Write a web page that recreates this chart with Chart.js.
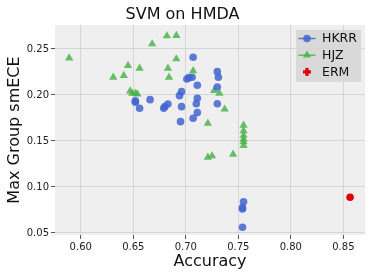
<!DOCTYPE html>
<html>
<head>
<meta charset="utf-8">
<script src="https://cdn.jsdelivr.net/npm/chart.js@4.4.1/dist/chart.umd.min.js"></script>
<style>
  html, body { margin: 0; padding: 0; background: #fff; }
  #wrap { width: 374px; height: 280px; }
</style>
</head>
<body>
<div id="wrap"><canvas id="chart" width="374" height="280"></canvas></div>
<script>
// values
const hkrrAcc = [0.652, 0.652, 0.656, 0.666, 0.679, 0.680, 0.683, 0.695, 0.696, 0.694, 0.696,
    0.701, 0.703, 0.706, 0.707, 0.711, 0.711, 0.710, 0.711, 0.707, 0.730, 0.731, 0.730, 0.730,
    0.755, 0.754, 0.754, 0.754];
const hkrrEce = [0.1935, 0.1920, 0.1855, 0.1949, 0.1855, 0.1873, 0.1902, 0.1710, 0.1873, 0.1992, 0.2036,
    0.2174, 0.2188, 0.2192, 0.2410, 0.2105, 0.1964, 0.1905, 0.1808, 0.1747, 0.2253, 0.2192, 0.2087, 0.1905,
    0.0840, 0.0775, 0.0760, 0.0562];

const hjzAcc = [0.589, 0.631, 0.641, 0.645, 0.656, 0.647, 0.649, 0.652, 0.654, 0.668, 0.682, 0.691,
    0.691, 0.683, 0.684, 0.707, 0.727, 0.732, 0.737, 0.721, 0.721, 0.725, 0.745,
    0.755, 0.755, 0.755, 0.755, 0.755, 0.755];
const hjzEce = [0.240, 0.2192, 0.221, 0.232, 0.229, 0.2043, 0.2018, 0.2018, 0.201, 0.2554, 0.2641, 0.2645,
    0.2391, 0.229, 0.2192, 0.2261, 0.2047, 0.2018, 0.1845, 0.1692, 0.1323, 0.1337, 0.1355,
    0.167, 0.161, 0.156, 0.152, 0.149, 0.145];

const ermAcc = [0.8564];
const ermEce = [0.0888];

const xTicks = [0.60, 0.65, 0.70, 0.75, 0.80, 0.85];
const yTicks = [0.05, 0.10, 0.15, 0.20, 0.25];

const BLUE = 'rgba(66, 100, 208, 0.85)';
const GREEN = 'rgba(72, 178, 72, 0.82)';
const RED = '#e00000';
const FONT = 'DejaVu Sans';

const toPoints = (xs, ys) => xs.map((x, i) => ({ x: x, y: ys[i] }));

// grey plot background like the matplotlib style
const plotBg = {
    id: 'plotBg',
    beforeDraw(chart) {
        const { ctx, chartArea: a } = chart;
        ctx.save();
        ctx.fillStyle = '#efefef';
        ctx.fillRect(a.left, a.top, a.right - a.left, a.bottom - a.top);
        ctx.restore();
    }
};

// legend box inside the plot, top right
const innerLegend = {
    id: 'innerLegend',
    afterDraw(chart) {
        const ctx = chart.ctx;
        const a = chart.chartArea;
        const bx = a.right - 69, by = a.top + 5, bw = 65, bh = 52;
        ctx.save();
        ctx.fillStyle = 'rgba(214, 214, 214, 0.9)';
        ctx.fillRect(bx, by, bw, bh);
        ctx.font = '12.5px "' + FONT + '"';
        ctx.textBaseline = 'middle';
        chart.data.datasets.forEach((ds, i) => {
            const y = by + 8.5 + i * 16.7;
            const mx = bx + 11;
            if (i < 2) {
                ctx.strokeStyle = ds.backgroundColor;
                ctx.lineWidth = 1.5;
                ctx.beginPath();
                ctx.moveTo(bx + 2.5, y);
                ctx.lineTo(bx + 19.5, y);
                ctx.stroke();
                ctx.fillStyle = ds.backgroundColor;
                ctx.beginPath();
                if (i === 0) {
                    ctx.arc(mx, y, 3.8, 0, Math.PI * 2);
                } else {
                    const r = 4.8;
                    ctx.moveTo(mx, y - r);
                    ctx.lineTo(mx + r * 0.866, y + r * 0.5);
                    ctx.lineTo(mx - r * 0.866, y + r * 0.5);
                    ctx.closePath();
                }
                ctx.fill();
            } else {
                // filled plus marker
                ctx.fillStyle = RED;
                ctx.fillRect(mx - 4, y - 1.6, 8, 3.2);
                ctx.fillRect(mx - 1.6, y - 4, 3.2, 8);
            }
            ctx.fillStyle = '#111';
            ctx.fillText(ds.label, bx + 26, y + 0.5);
        });
        ctx.restore();
    }
};

new Chart(document.getElementById('chart'), {
    type: 'scatter',
    data: {
        datasets: [
            {
                label: 'HKRR',
                data: toPoints(hkrrAcc, hkrrEce),
                pointStyle: 'circle',
                pointRadius: 3.8,
                backgroundColor: BLUE,
                borderWidth: 0
            },
            {
                label: 'HJZ',
                data: toPoints(hjzAcc, hjzEce),
                pointStyle: 'triangle',
                pointRadius: 4.8,
                backgroundColor: GREEN,
                borderWidth: 0
            },
            {
                label: 'ERM',
                data: toPoints(ermAcc, ermEce),
                pointStyle: 'circle',
                pointRadius: 3.8,
                backgroundColor: RED,
                borderWidth: 0
            }
        ]
    },
    options: {
        responsive: false,
        animation: false,
        layout: { padding: { left: 0, right: 9, top: 0, bottom: 0 } },
        plugins: {
            legend: { display: false },
            tooltip: { enabled: false },
            title: {
                display: true,
                text: 'SVM on HMDA',
                color: '#111',
                font: { family: FONT, size: 16, weight: 'normal', lineHeight: 1.2 },
                padding: { top: 5, bottom: 0.8 }
            }
        },
        scales: {
            x: {
                type: 'linear',
                min: 0.5755,
                max: 0.8706,
                afterBuildTicks: (scale) => { scale.ticks = xTicks.map(v => ({ value: v })); },
                afterFit: (scale) => { scale.height = 45; },
                ticks: {
                    color: '#222',
                    font: { family: FONT, size: 10 },
                    padding: 2,
                    maxRotation: 0,
                    callback: (v) => v.toFixed(2)
                },
                grid: { color: '#d6d6d6', lineWidth: 1, tickColor: '#555', tickLength: 4 },
                border: { display: false },
                title: {
                    display: true,
                    text: 'Accuracy',
                    color: '#111',
                    font: { family: FONT, size: 16, lineHeight: 1.2 },
                    padding: { top: 0, bottom: 9 }
                }
            },
            y: {
                type: 'linear',
                min: 0.0478,
                max: 0.276,
                afterBuildTicks: (scale) => { scale.ticks = yTicks.map(v => ({ value: v })); },
                afterFit: (scale) => { scale.width = 55; },
                ticks: {
                    color: '#222',
                    font: { family: FONT, size: 10 },
                    padding: 2,
                    callback: (v) => v.toFixed(2)
                },
                grid: { color: '#d6d6d6', lineWidth: 1, tickColor: '#555', tickLength: 4 },
                border: { display: false },
                title: {
                    display: true,
                    text: 'Max Group smECE',
                    color: '#111',
                    font: { family: FONT, size: 16, lineHeight: 1.2 },
                    padding: { top: 5, bottom: 0 }
                }
            }
        }
    },
    plugins: [plotBg, innerLegend]
});
</script>
</body>
</html>
